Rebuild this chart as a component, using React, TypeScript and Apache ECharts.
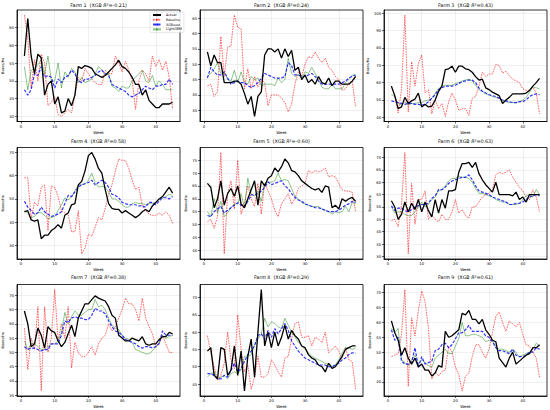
import React, { useEffect, useRef } from "react";
import * as echarts from "echarts";

const weeks = [1,2,3,4,5,6,7,8,9,10,11,12,13,14,15,16,17,18,19,20,21,22,23,24,25,26,27,28,29,30,31,32,33,34,35,36,37,38,39,40,41,42,43,44,45];
const farmNames = ["Farm 1","Farm 2","Farm 3","Farm 4","Farm 5","Farm 6","Farm 7","Farm 8","Farm 9"];
const xgbR2 = ["-0.21","0.24","0.43","0.58","-0.60","0.63","0.38","0.29","0.61"];
const seriesNames = ["Actual","Baseline","XGBoost","LightGBM"];
const xTicks = [0,10,20,30,40];

const yTicks1 = [40,45,50,55,60,65];
const yTicks2 = [35,40,45,50,55,60,65];
const yTicks3 = [40,50,60,70,80,90,100];
const yTicks4 = [30,40,50,60,70];
const yTicks5 = [40,45,50,55,60,65,70,75,80];
const yTicks6 = [30,35,40,45,50,55,60,65,70];
const yTicks7 = [35,40,45,50,55,60,65,70];
const yTicks8 = [45,50,55,60,65,70];
const yTicks9 = [40,45,50,55,60,65,70];

const actual1 = [57,67.5,57,52,57.5,56.5,46,49,50,43.5, 45.5,41,41.5,45,43,46,54,53.5,54.3,54, 53.5,52,51.5,51,51.5,52.5,53.5,54.5,55.8,54, 53.5,52.5,51,49,49,46,47.5,44.5,43.5,42.5, 42.5,43.5,43.5,43.5,44];
const baseline1 = [68.5,62,48,56,50,57.5,55,43,44,45.5, 40.5,40,41,42,41,46,51,50,53.5,52, 50.5,49.5,49,49,53,52,52,57,55,52.5, 55.5,53,50,42,50,53,52,50,57,54, 56,53,55.5,51,42];
const xgboost1 = [47.5,46,47.5,52,51.5,54,51,51.5,51,48, 50.5,49.5,51,51.5,53,52,50,49.5,50.5,50.5, 51,51.5,52.5,53,52,51.5,49,48.5,48,47.5, 47,46,45.5,46,46.5,47.5,48.5,48,47.5,48.5, 48.5,49,49,50.5,49];
const lightgbm1 = [54,47.5,53,53.5,54.5,56,52,57,50,50, 55,48,52.5,51,53.5,52.5,49.5,51,49.5,50, 50.5,52,54,53,51.5,52,48.5,48,47,48.5, 48,48,50,51,52,53,50,49.5,51.5,48.5, 50,49,47.5,47.5,47.5];

const actual2 = [54,49.5,53,50.5,50.5,44,44,44,44.5,44.5, 43.5,40.5,37,39.5,33,39.5,41,53,55,55, 54,55,52,55,52.5,54.5,48,49,45,46.5, 44,45,43.5,46,44,43.5,45.5,43,44.5,44.5, 43.5,43.5,43.5,44.5,46];
const baseline2 = [43,43.5,39.5,41,59,46,55.5,56,66,62, 61.5,42,48.5,42,46,42.5,45,44,36.5,40, 40,40,39,37.5,34.5,37,43.5,47.5,46,50, 52.5,52,54,52,50.5,52,49,48,46,45, 41.5,42,44,44.5,36];
const xgboost2 = [45.5,49,47.5,46.5,46.5,47.5,45.5,43.5,44,44.5, 44,44,43,42.5,43,44,45.5,47,46.5,46, 45.5,45.5,45.5,46,50.5,49.5,46.5,46.5,46,46, 46.5,47,46,44.5,43.5,43.5,43.5,43.5,43.5,43.5, 44,44.5,45.5,46,46.5];
const lightgbm2 = [46,47,48.5,50.5,47,47.5,45,44.5,48,44, 47.5,44,43.5,46,45,45.5,43,43.5,43.5,43.5, 43,45.5,44,45,52,47,46,46.5,45.5,47.5, 47,49,47,45,42.5,42,42,43.5,42,42, 42,44,45,46.5,46.5];

const actual3 = [58,52.5,45,46,51.5,48,49.5,50.5,54,46, 47.5,46,46.5,50,55,58,67.5,68,69.5,66, 69.5,69.5,68,67.5,66,63.5,61.5,62,57,56, 54.5,53.5,52.5,48,50,51.5,53.5,53.5,53.5,53.5, 54,55.5,58,60,62.5];
const baseline3 = [57.5,52,42.5,56,99,43,72,58,71,76, 54,56,42,50,45,48,40.5,49,54,50, 44,45,45,41,51,52,58,66,63.5,65, 65,70.5,70,65.5,66.5,64,62,61,60,56.5, 55.5,55.5,57.5,54,42];
const xgboost3 = [49.5,49,48.5,48,47.5,48,48,47.5,47.5,47, 47.5,49,51,53,56,57,58,58,58,58.5, 59.5,60.5,61,61.5,61.5,60,57,55,54,53, 52.5,52,51,50,49.5,49,48.5,48.5,49,49, 50,52,53,53.5,53];
const lightgbm3 = [53,52,48,47,49,47,48,48,48.5,48.5, 49.5,50,51,54,56.5,58,58.5,58.5,58.5,59.5, 60,61,61.5,62,61,58.5,56,55,53.5,53, 52,51.5,51,49.5,49,48.5,48.5,48.5,49,50, 51.5,54.5,57.5,57,56.5];

const actual4 = [44.5,45,41,40.5,41,33,34.5,34.5,36.5,37.5, 39,37.5,43,44,47.5,48,56,57.5,62,68.5, 69.8,67,63,61,54,48,46,45.5,45.5,44, 45,44,43,42,43,44.5,45.5,44.5,47,48.5, 50,51,53,55,52.5];
const baseline4 = [59,59,41.5,48.5,47,55,56,36.5,55.5,55, 51,45,44,43.5,36,36,45,26.5,29,35, 34,38,42,41,46,52,56,62,67,66.5, 66.5,63,58,54,55,47,45,43.5,43,43, 44,43,44.5,43,39.5];
const xgboost4 = [49,46.5,45,43.5,44,46.5,44.5,43.5,42.5,43, 43.5,44.5,48,51.5,51,53,55,56,56.5,57, 58,56,57,58,57,55,52,51.5,50.5,48.5, 48,47.5,47.5,47.5,47,47,46.5,48.5,48.5,47.5, 49,50.5,50.5,50,51];
const lightgbm4 = [45,44,42,42.5,44.5,44,43,41.5,42,42.5, 45,47.5,50.5,49.5,51,53.5,56,56,56.5,58, 61,57,55,55.5,55,53,50,50,49,47.5, 46.5,46.5,48,48.5,48,48,47.5,48,48,48.5, 50,50.5,51,52,51.5];

const actual5 = [66,64.5,56.5,60,67,57.5,62,64,61,65, 58,56.5,60,63.5,67,57.5,67,65,68,69, 72,70.5,72.5,75.5,74,71,70.5,69,67,66, 65,64,63.5,64,62.5,65,64.5,56.5,57.5,56, 60,59,60,60.5,59];
const baseline5 = [51,52,48.5,53,78,38.5,62,67,56,75, 54,58,65,60,57,66,54,66,63,60, 55.5,53,58,60,62,58,60,64,65,66, 71,70,71,70.5,71,72,68.5,69,68.5,66, 63.5,63,63,62.5,55];
const xgboost5 = [53.5,53,55,56,57,54.5,55.5,56.5,57.5,58.5, 57.5,57,59,61.5,61.5,62,63,64.5,66.5,65.5, 66,66.5,67,65,64,62,60.5,59.5,59,58, 57.5,57,56.5,56.5,56,55.5,55,55,55,55.5, 56.5,57.5,58,59,58.5];
const lightgbm5 = [55,53,60,54.5,59,53,54.5,56.5,58,58, 62,56.5,68,62,61,63,59,66,66.5,66.5, 67,70,67,67.5,67,64,61,60,58.5,58, 57.5,57,57,57,56,55.5,55,54,55,54.5, 55,57,55,58.5,58];

const actual6 = [52.5,50,45,47,52,48,51.5,49,53,48, 52,48.5,46,53,47.5,53,49.5,56.5,56.5,57, 64,67.5,67.5,68,66,68,63.5,61,59,57.5, 56,60,55,55,55,55,54.5,56,53,54, 52,55,55,55,55];
const baseline6 = [44.5,45,42,51,72,31,59.5,43,53,53, 56.5,45,47,45,44,47,45,45,48,53, 47.5,49,46.5,45.5,50,50,52,54,55,55.5, 57,63,64,63.5,64,65,62,60,58,56.5, 54,53,57,54,48];
const xgboost6 = [50.5,48.5,49.5,49.5,48.5,48,49,50,50.5,51, 51,51.5,53.5,54.5,57,57,58,59.5,60.5,61, 61.5,62,62,63,61,58.5,56.5,56,55.5,55, 54,53.5,53,52.5,52,51,51,51.5,51.5,52, 53,54,54.5,55,54.5];
const lightgbm6 = [50,47.5,48,48,47,46.5,46.5,48,50,52, 50,51,53,54,56.5,57,58.5,60.5,61.5,61.5, 62.5,62,62,61.5,60,57.5,55.5,55.5,55,54.5, 54,53,52.5,52,52,51,51,51,51.5,53, 54.5,55,54,57,55];

const actual7 = [64.5,60,52,53,58.5,56,51.5,59,57.5,57, 54,52,53.5,56.5,59.5,55.5,62,64.5,67,67, 68.5,69.8,69,68.5,68,66,63,62,56,55, 54,54,55,54.5,54,55.5,53,52.5,53,53, 54.5,55.5,55.5,57,56.5];
const baseline7 = [58.5,44,55,51,66,36.5,66,50,55,72, 54,60,55,66,44.5,53.5,50,48.5,48.5,50, 52,49,53,55,56,60,57.5,59,62,65, 69,67,67,65,61,69,62,59,56.5,52, 53,56,53,50,50];
const xgboost7 = [52,51,51.5,51.5,51,50.5,51,51,53,53, 53,56,61,60.5,62,62.5,62,62,61.5,61.5, 63,65.5,64.5,64.5,63.5,61,59,57.5,57,56, 54.5,54,53.5,53,52,51.5,52,52,51.5,52, 53,57.5,56,56,56];
const lightgbm7 = [54,51,53,53,52,51,51,52,53,53, 54,57,64,60,62.5,64.5,63,63,64,65, 65,68.5,66,66.5,65,62,59.5,58.5,58,56, 55,54.5,53.5,51,50.5,50,49.5,49.5,50.5,52, 53.5,56,55,55.5,56];

const actual8 = [54.5,55.5,47.5,46.5,55.5,55,47.5,49,56,47.5, 54.5,43,53,58,47,60,72.3,56,60,55.5, 60,56,58.5,62,58,60.5,59,58,56,55.5, 53.5,52.5,52,50.5,50,48.5,51,49.5,50,51.5, 53,55,55.5,56,56];
const baseline8 = [59,54,50,46,47.5,51,60,52,49.5,65, 55,48.5,50.5,43.5,47,53,47,47,48,52, 50.5,48.5,47,52.5,53,58,62.5,63,58.5,58.5, 59,56,58.5,58,57,60,54,55,56,54.5, 52.5,55.5,52,51.5,43.5];
const xgboost8 = [48,48,47.5,46.5,46.5,47.5,47,49,51,48.5, 49.5,51.5,53.5,54.5,56,59,59.5,58,60.5,58.5, 61,59.5,61,62.5,60.5,57.5,56,54.5,53.5,52.5, 52,51.5,51,50.5,50.5,50.5,50,50,50.5,51, 52,52.5,53.5,54,54];
const lightgbm8 = [47,48,48.5,46.5,47,47.5,46.5,48,48.5,48, 49,53,53,53.5,56.5,58,59.5,64,61.5,63, 62.5,61.5,61,64,62,60,58.5,57,56,55, 54,53,52.5,52,51.5,51,51,50,50.5,52, 54,55.5,55.5,55,55.5];

const actual9 = [60.5,56.5,54,49,51.5,48,46,48,45,46, 44,44,42,43,45.5,45,57,55,55.5,56.5, 57.5,63,62.5,64,61,61,59.5,61,57.5,56, 54,53.5,48,46.5,45,48,50,46,47,48, 49,49.5,51.5,51.5,52.5];
const baseline9 = [48.5,49,49.5,56,71,38.5,61.5,55.5,64,70.5, 67,58,41,43.5,42,43.5,44,52,50,45, 42.5,37,42,43,48.5,52.5,52.5,50,48,51, 56.5,62,63.5,60,57,60.5,59.5,58.5,60,56, 52.5,52,50,48,41.5];
const xgboost9 = [57.5,54,55,47,46,46,46.5,51.5,45,48.5, 46,46.5,47,50.5,51,52.5,53,51.5,52.5,54.5, 56.5,56.5,57.5,59,57,57,57,57,55.5,55, 53.5,51.5,50.5,50.5,50,49.5,51,49,48.5,48.5, 49,50,50,51.5,51];
const lightgbm9 = [58,56.5,58,47.5,46.5,45.5,47.5,49,46,47.5, 46.5,45.5,45,48,49,50,51,49.5,49.5,52, 54.5,60,55.5,55.5,56,56,55.5,55,53.5,54, 54,52,51,51,50.5,50,51,50,48.5,49, 49.5,50,51,53,52];

const panelSeries = [
  [actual1, baseline1, xgboost1, lightgbm1],
  [actual2, baseline2, xgboost2, lightgbm2],
  [actual3, baseline3, xgboost3, lightgbm3],
  [actual4, baseline4, xgboost4, lightgbm4],
  [actual5, baseline5, xgboost5, lightgbm5],
  [actual6, baseline6, xgboost6, lightgbm6],
  [actual7, baseline7, xgboost7, lightgbm7],
  [actual8, baseline8, xgboost8, lightgbm8],
  [actual9, baseline9, xgboost9, lightgbm9],
];
const panelYTicks = [yTicks1, yTicks2, yTicks3, yTicks4, yTicks5, yTicks6, yTicks7, yTicks8, yTicks9];

const FONT = "DejaVu Sans";
const colLeft = [17, 200, 384];
const rowTop = [10, 147.5, 284.5];
const titleY = [5.5, 141.5, 277.5];
const plotW = 163;
const plotH = 111.5;

const lineStyles = [
  { color: "#000000", width: 1.3, type: "solid" as any, z: 5 },
  { color: "rgba(255,0,0,0.6)", width: 1, type: [1.6, 1] as any, z: 3 },
  { color: "rgba(0,0,255,0.8)", width: 1.2, type: [3, 1.5] as any, z: 4 },
  { color: "rgba(0,128,0,0.45)", width: 1, type: "solid" as any, z: 3 },
];

function buildOption() {
  const grid: any[] = [];
  const xAxis: any[] = [];
  const yAxis: any[] = [];
  const series: any[] = [];
  const graphic: any[] = [];
  panelSeries.forEach((sets, i) => {
    const r = Math.floor(i / 3);
    const c = i % 3;
    grid.push({
      left: colLeft[c], top: rowTop[r], width: plotW, height: plotH,
      show: true, borderColor: "#000", borderWidth: 0.8, backgroundColor: "transparent",
    });
    const all = sets.flat();
    const lo = Math.min(...all);
    const hi = Math.max(...all);
    const pad = (hi - lo) * 0.05;
    const common = (ticks: number[]) => ({
      axisLine: { show: true, onZero: false, lineStyle: { color: "#000", width: 0.8 } },
      axisTick: { show: true, length: 2, lineStyle: { color: "#000", width: 0.6 }, customValues: ticks },
      axisLabel: { fontSize: 3.8, color: "#000", fontFamily: FONT, customValues: ticks },
      splitLine: { show: false },
      nameLocation: "middle",
      nameTextStyle: { fontSize: 3.9, color: "#000", fontFamily: FONT },
    });
    const xc = common(xTicks);
    xAxis.push({
      ...xc, type: "value", gridIndex: i, min: -1.2, max: 47.2,
      axisLabel: { ...xc.axisLabel, margin: 2.8 },
      name: "Week", nameGap: 8.5,
    });
    const yc = common(panelYTicks[i]);
    yAxis.push({
      ...yc, type: "value", gridIndex: i, min: lo - pad, max: hi + pad,
      axisLabel: { ...yc.axisLabel, margin: 2.8 },
      name: "Boxes/Ha", nameGap: 11, nameTextStyle: { ...yc.nameTextStyle, fontSize: 3.5 },
    });
    series.push({
      type: "line", name: "grid" + i, xAxisIndex: i, yAxisIndex: i, data: [], z: 1, silent: true,
      markLine: {
        silent: true, symbol: "none", animation: false, label: { show: false },
        lineStyle: { color: "rgba(0,0,0,0.12)", width: 0.5, type: "solid" },
        data: [
          ...xTicks.map((v) => ({ xAxis: v })),
          ...panelYTicks[i].map((v) => ({ yAxis: v })),
        ],
      },
    });
    sets.forEach((vals, k) => {
      const ls = lineStyles[k];
      series.push({
        type: "line", name: seriesNames[k], xAxisIndex: i, yAxisIndex: i,
        data: weeks.map((w, j) => [w, vals[j]]),
        symbol: "none", z: ls.z, color: ls.color,
        lineStyle: { color: ls.color, width: ls.width, type: ls.type },
      });
    });
    graphic.push({
      type: "text", x: colLeft[c] + plotW / 2, y: titleY[r],
      style: {
        text: `${farmNames[i]}  (XGB {i|R}²=${xgbR2[i]})`,
        fontSize: 4.8, fontFamily: FONT, fill: "#000", align: "center", verticalAlign: "middle",
        rich: { i: { fontStyle: "italic", fontSize: 4.8, fontFamily: FONT, fill: "#000" } },
      },
    });
  });
  return {
    animation: false,
    backgroundColor: "#fff",
    grid, xAxis, yAxis, series, graphic,
    legend: {
      data: seriesNames, orient: "vertical", left: 150, top: 12,
      itemWidth: 8, itemHeight: 3, itemGap: 1.8,
      textStyle: { fontSize: 3.3, fontFamily: FONT, color: "#000" },
      borderColor: "#ccc", borderWidth: 0.5, borderRadius: 1, padding: [1.5, 2],
      backgroundColor: "rgba(255,255,255,0.85)",
    },
  };
}

export default function App() {
  const ref = useRef<HTMLDivElement>(null);
  useEffect(() => {
    const chart = echarts.init(ref.current!, null, { renderer: "svg" });
    chart.setOption(buildOption() as any);
    return () => chart.dispose();
  }, []);
  return (
    <div
      ref={ref}
      style={{ position: "fixed", left: 0, top: 0, width: 550, height: 410, background: "#fff" }}
    />
  );
}
